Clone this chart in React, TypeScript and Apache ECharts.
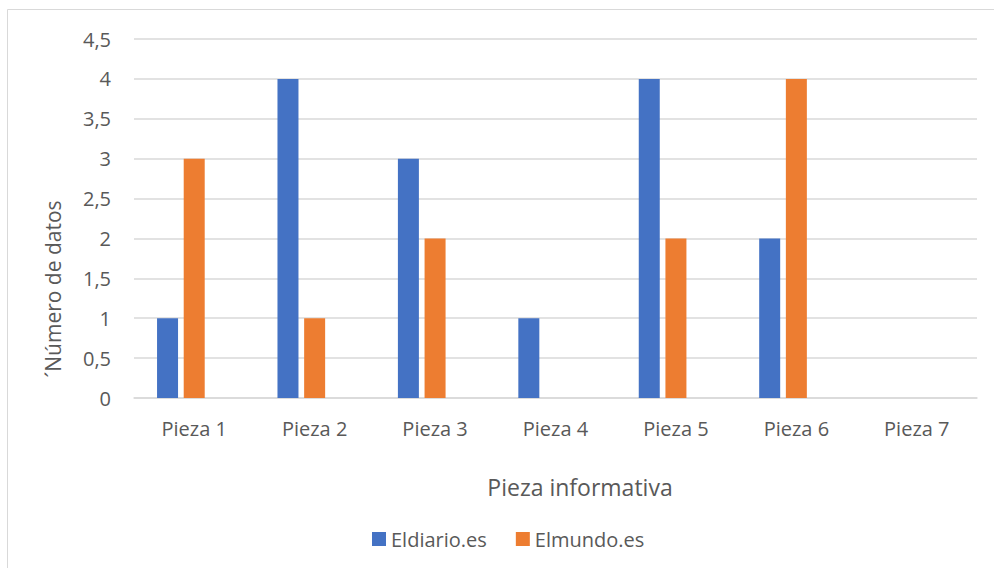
import React, { useEffect, useRef } from "react";
import * as echarts from "echarts";

const categories = ["Pieza 1", "Pieza 2", "Pieza 3", "Pieza 4", "Pieza 5", "Pieza 6", "Pieza 7"];
const eldiario = [1, 4, 3, 1, 4, 2, 0];
const elmundo = [3, 1, 2, 0, 2, 4, 0];
const tercera: (number | null)[] = [null, null, null, null, null, null, null];
const seriesNames = ["Eldiario.es", "Elmundo.es"];
const xTitle = "Pieza informativa";
const yTitle = "´Número de datos";

const FONT = "'Open Sans', sans-serif";
const GRAY = "#595959";

export default function App() {
  const ref = useRef<HTMLDivElement>(null);
  useEffect(() => {
    if (!ref.current) return;
    const chart = echarts.init(ref.current, undefined, { renderer: "svg" });
    chart.setOption({
      animation: false,
      backgroundColor: "#ffffff",
      textStyle: { fontFamily: FONT },
      graphic: [
        {
          type: "rect",
          shape: { x: 7.5, y: 9.5, width: 1000, height: 600 },
          style: { fill: "none", stroke: "#D9D9D9", lineWidth: 1 },
          silent: true,
        },
        {
          type: "text",
          x: 580,
          y: 487,
          style: {
            text: xTitle,
            fill: GRAY,
            font: `23px ${FONT}`,
            align: "center",
            verticalAlign: "middle",
          },
        },
        {
          type: "text",
          x: 53,
          y: 289,
          rotation: Math.PI / 2,
          style: {
            text: yTitle,
            fill: GRAY,
            font: `21px ${FONT}`,
            align: "center",
            verticalAlign: "middle",
          },
        },
      ],
      legend: {
        data: seriesNames,
        left: 372,
        top: 529,
        padding: 0,
        itemWidth: 14,
        itemHeight: 14,
        itemGap: 29,
        icon: "rect",
        textStyle: { color: GRAY, fontSize: 20, fontFamily: FONT },
      },
      grid: { left: 134, right: 17, top: 39, bottom: 170 },
      xAxis: {
        type: "category",
        data: categories,
        axisLine: { lineStyle: { color: "#D9D9D9", width: 1.5 } },
        axisTick: { show: false },
        axisLabel: { color: GRAY, fontSize: 20, fontFamily: FONT, margin: 20 },
      },
      yAxis: {
        type: "value",
        min: 0,
        max: 4.5,
        interval: 0.5,
        axisLine: { show: false },
        axisTick: { show: false },
        splitLine: { lineStyle: { color: "#D9D9D9", width: 1.5 } },
        axisLabel: {
          color: GRAY,
          fontSize: 20,
          fontFamily: FONT,
          margin: 23,
          formatter: (v: number) => String(v).replace(".", ","),
        },
      },
      series: [
        {
          name: seriesNames[0],
          type: "bar",
          data: eldiario,
          barWidth: 21,
          barGap: "27%",
          itemStyle: { color: "#4472C4" },
        },
        {
          name: seriesNames[1],
          type: "bar",
          data: elmundo,
          barWidth: 21,
          barGap: "27%",
          itemStyle: { color: "#ED7D31" },
        },
        {
          name: "tercera",
          type: "bar",
          data: tercera,
          barWidth: 21,
          barGap: "27%",
          itemStyle: { color: "#A5A5A5" },
        },
      ],
    });
    return () => chart.dispose();
  }, []);
  return (
    <div
      ref={ref}
      style={{ position: "absolute", left: 0, top: 0, width: 994, height: 568 }}
    />
  );
}
